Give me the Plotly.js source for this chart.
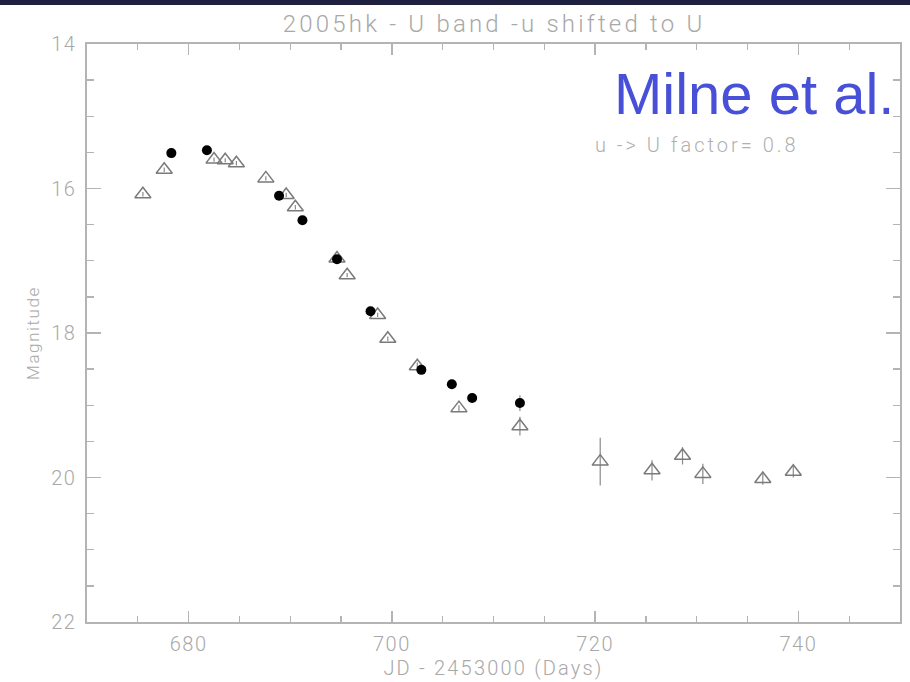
<!DOCTYPE html>
<html>
<head>
<meta charset="utf-8">
<script src="https://cdn.plot.ly/plotly-3.0.1.min.js"></script>
<style>
html,body{margin:0;padding:0;background:#fff;}
#chart{width:910px;height:682px;}
#chart .gtitle{letter-spacing:3.2px;}
#chart .xtick text,#chart .ytick text{letter-spacing:1.5px;}
#chart .xtitle{letter-spacing:2.2px;}
#chart .ytitle{letter-spacing:1.6px;}
#chart .annotation[data-index="1"] text{letter-spacing:3px;}
</style>
</head>
<body>
<div id="chart"></div>
<script>
// u-band (shifted to U) photometry: open triangles
const triX = [675.5, 677.6, 682.5, 683.6, 684.7, 687.6, 689.6, 690.5, 694.6, 695.6, 698.6, 699.6, 702.5, 706.6, 712.6, 720.5, 725.6, 728.6, 730.6, 736.5, 739.5];
const triY = [16.08, 15.74, 15.60, 15.61, 15.65, 15.86, 16.09, 16.26, 16.97, 17.20, 17.75, 18.08, 18.46, 19.04, 19.29, 19.78, 19.90, 19.70, 19.95, 20.02, 19.92];
const triErr = [0.03, 0.03, 0.03, 0.03, 0.03, 0.03, 0.03, 0.03, 0.05, 0.03, 0.03, 0.03, 0.05, 0.04, 0.13, 0.33, 0.14, 0.12, 0.14, 0.08, 0.08];
// U-band photometry: filled circles
const dotX = [678.3, 681.8, 688.9, 691.2, 694.6, 697.9, 702.9, 705.9, 707.9, 712.6];
const dotY = [15.51, 15.47, 16.10, 16.44, 16.98, 17.70, 18.51, 18.71, 18.90, 18.97];
const dotErr = [0.03, 0.03, 0.03, 0.03, 0.05, 0.03, 0.03, 0.03, 0.03, 0.11];
// axis ticks
const xTicks = [680, 700, 720, 740];
const yTicks = [14, 16, 18, 20, 22];

const grey = '#a8a8a8';
const fontFam = 'Roboto, "Liberation Sans", sans-serif';

const traces = [
  {
    x: triX, y: triY, type: 'scatter', mode: 'markers',
    error_y: {type: 'data', array: triErr, visible: true, color: '#8a8a8a', thickness: 1.2, width: 0},
    marker: {symbol: 'triangle-up-open', size: 14, color: '#7a7a7a', line: {width: 1.5, color: '#7a7a7a'}},
    showlegend: false, cliponaxis: false
  },
  {
    x: dotX, y: dotY, type: 'scatter', mode: 'markers',
    error_y: {type: 'data', array: dotErr, visible: true, color: '#8a8a8a', thickness: 1.2, width: 0},
    marker: {symbol: 'circle', size: 10, color: '#000000'},
    showlegend: false, cliponaxis: false
  }
];

const layout = {
  width: 910, height: 682,
  margin: {l: 87, r: 10, t: 44, b: 60},
  paper_bgcolor: '#ffffff', plot_bgcolor: '#ffffff',
  font: {family: fontFam, color: grey, weight: 300},
  title: {
    text: '2005hk - U band -u shifted to U',
    font: {size: 24, color: grey, family: fontFam, weight: 300},
    x: 0.543, xanchor: 'center', y: 0.966, yanchor: 'middle'
  },
  xaxis: {
    range: [670, 750], tickvals: xTicks, ticktext: xTicks.map(String),
    ticks: 'inside', ticklen: 11, tickwidth: 1.3, tickcolor: '#b4b4b4',
    minor: {dtick: 5, tick0: 670, ticks: 'inside', ticklen: 6, tickwidth: 1.3, tickcolor: '#b4b4b4', showgrid: false},
    showline: true, linecolor: '#b4b4b4', linewidth: 1.6, mirror: 'ticks',
    showgrid: false, zeroline: false,
    tickfont: {size: 20, color: grey},
    ticklabelstandoff: 3,
    title: {text: 'JD - 2453000 (Days)', font: {size: 20, color: grey}, standoff: 2}
  },
  yaxis: {
    range: [22, 14], tickvals: yTicks, ticktext: yTicks.map(String),
    ticks: 'inside', ticklen: 14, tickwidth: 1.3, tickcolor: '#b4b4b4',
    minor: {dtick: 0.5, tick0: 14, ticks: 'inside', ticklen: 7, tickwidth: 1.3, tickcolor: '#b4b4b4', showgrid: false},
    showline: true, linecolor: '#b4b4b4', linewidth: 1.6, mirror: 'ticks',
    showgrid: false, zeroline: false,
    tickfont: {size: 20, color: grey},
    ticklabelstandoff: 5,
    title: {text: 'Magnitude', font: {size: 17, color: grey}, standoff: 10}
  },
  shapes: [
    {type: 'rect', xref: 'paper', yref: 'paper', x0: -0.2, x1: 1.1, y0: 1.0675, y1: 1.09,
     fillcolor: '#1f2040', line: {width: 0}, layer: 'above'}
  ],
  annotations: [
    {text: 'Milne et al.', xref: 'paper', yref: 'paper', x: 0.995, y: 0.914, xanchor: 'right', yanchor: 'middle',
     showarrow: false, font: {family: '"Liberation Sans", Arial, sans-serif', size: 58, color: '#4750d6', weight: 400}},
    {text: 'u -> U factor= 0.8', xref: 'paper', yref: 'paper', x: 0.7497, y: 0.826, xanchor: 'center', yanchor: 'middle',
     showarrow: false, font: {family: fontFam, size: 20, color: '#b0b0b0', weight: 300}}
  ]
};

Plotly.newPlot('chart', traces, layout, {displayModeBar: false, staticPlot: true});
</script>
</body>
</html>
